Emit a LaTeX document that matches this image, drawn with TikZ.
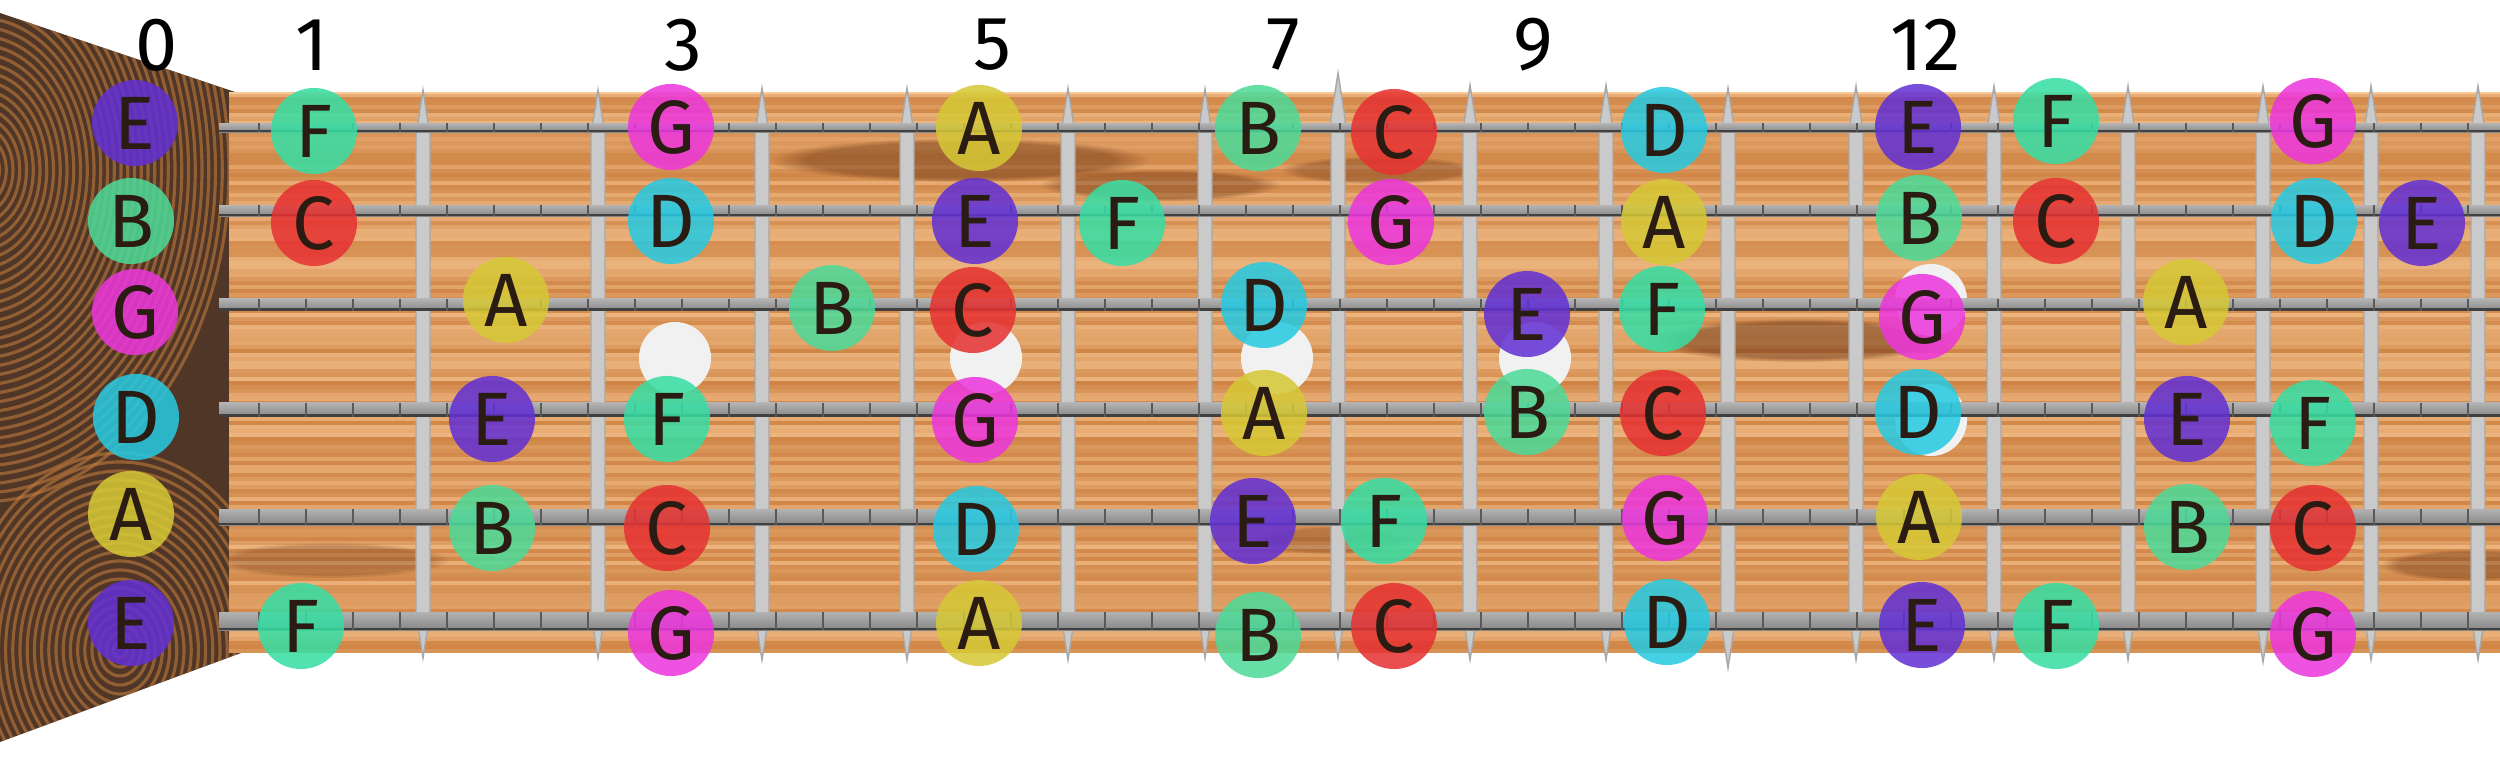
\documentclass[tikz,border=0pt]{standalone}
\usepackage{fontspec}
\setmainfont{Fira Sans}
\usetikzlibrary{fadings}
\definecolor{cE}{HTML}{6230D4}
\definecolor{cF}{HTML}{36DEA4}
\definecolor{cG}{HTML}{EC36DC}
\definecolor{cA}{HTML}{D6C836}
\definecolor{cB}{HTML}{4CDA98}
\definecolor{cC}{HTML}{E63232}
\definecolor{cD}{HTML}{26CAE2}
\definecolor{wood}{HTML}{E09C60}
\definecolor{woodlight}{HTML}{F8CA98}
\definecolor{wooddark}{HTML}{C27230}
\definecolor{knot}{HTML}{6A3414}
\definecolor{darkwood}{HTML}{4F3626}
\definecolor{darkgrain}{HTML}{C07A3C}
\definecolor{fretc}{HTML}{CACACA}
\definecolor{fretedge}{HTML}{A8A8A8}
\definecolor{inlay}{HTML}{F1F1F1}
\definecolor{ink}{HTML}{2A1C12}
\tikzset{
  notebase/.style={circle, minimum size=0.86cm, inner sep=0pt, fill opacity=0.86, text opacity=1,
    text=ink, font=\fontsize{21.5}{22}\selectfont},
  fretnum/.style={inner sep=0pt, text=black, font=\fontsize{21.5}{22}\selectfont},
  inlaydot/.style={circle, minimum size=0.72cm, inner sep=0pt, fill=inlay},
  fretbar/.style={fill=fretc, draw=fretedge, line width=0.4pt},
  knotstreak/.style={fill=knot, path fading=circle with fuzzy edge 20 percent},
}
\begin{document}
\begin{tikzpicture}[x=0.01cm, y=-0.01cm]
\useasboundingbox (0,0) rectangle (2500,764);
\fill[white] (0,0) rectangle (2500,764);
% headstock dark wood
\begin{scope}
  \clip (0,13) -- (238,93) -- (241,653) -- (0,742) -- cycle;
  \fill[darkwood] (0,0) rectangle (260,764);
  \foreach \r in {8,17,...,340}
    \draw[darkgrain, opacity=0.6, line width=0.9pt] (-20,170) ellipse ({\r*0.75} and \r);
  \foreach \r in {8,17,...,200}
    \draw[darkgrain, opacity=0.6, line width=0.9pt] (120,650) ellipse ({\r*0.8} and \r);
\end{scope}
% fretboard
\begin{scope}
  \clip (229,93) rectangle (2500,653);
  \fill[wood] (229,93) rectangle (2500,653);
  \pgfmathsetseed{7}
  \foreach \i in {0,...,139} {
    \pgfmathtruncatemacro\p{rnd*100}
    \fill[woodlight!\p!wooddark, opacity=0.55] (229,{93+\i*4}) rectangle (2500,{97+\i*4});
  }
  \fill[knotstreak, opacity=0.45] (960,160) ellipse (190 and 22);
  \fill[knotstreak, opacity=0.4] (1160,185) ellipse (120 and 16);
  \fill[knotstreak, opacity=0.35] (1380,170) ellipse (100 and 14);
  \fill[knotstreak, opacity=0.5] (1800,340) ellipse (150 and 22);
  \fill[knotstreak, opacity=0.4] (2470,565) ellipse (90 and 16);
  \fill[knotstreak, opacity=0.3] (1330,540) ellipse (80 and 14);
  \fill[knotstreak, opacity=0.3] (330,560) ellipse (120 and 18);
\end{scope}
\fill[woodlight] (229,92) rectangle (2500,94);
% inlays
\node[inlaydot] (i3) at (675,358) {};
\node[inlaydot] (i5) at (986,358) {};
\node[inlaydot] (i7) at (1277,358) {};
\node[inlaydot] (i9) at (1535,358) {};
\node[inlaydot] (i12a) at (1931,300) {};
\node[inlaydot] (i12b) at (1931,420) {};
% frets
\foreach \x/\t/\b in {423/90/658, 598/90/658, 762/88/660, 907/88/660, 1068/88/660,
  1205/89/658, 1338/73/658, 1470/85/660, 1606/85/660, 1728/88/668, 1856/86/660,
  1994/86/660, 2128/86/660, 2263/86/662, 2371/86/660, 2478/86/660}
  \filldraw[fretbar] (\x-7,\t+45) -- (\x,\t) -- (\x+7,\t+45) -- (\x+7,\b-45) -- (\x,\b) -- (\x-7,\b-45) -- cycle;
% strings
\foreach \y/\h in {128/9, 211/11, 305/12, 410/14, 517/16, 621/18} {
  \shade[top color=gray!60, bottom color=gray!95] (219,{\y-\h/2}) rectangle (2500,{\y+\h/2});
  \fill[black!75] (219,{\y+\h/2-2.5}) rectangle (2500,{\y+\h/2});
  \foreach \k in {0,...,48}
    \draw[black!65, line width=0.6pt] ({259+\k*47},{\y-\h/2}) -- ({259+\k*47},{\y+\h/2});
}
% fret numbers
\node[fretnum] (l0) at (157,45) {0};
\node[fretnum] (l1) at (312,45) {1};
\node[fretnum] (l3) at (683,45) {3};
\node[fretnum] (l5) at (992,45) {5};
\node[fretnum] (l7) at (1283,45) {7};
\node[fretnum] (l9) at (1533,45) {9};
\node[fretnum] (l12) at (1926,45) {12};
% notes
\foreach \x/\y/\n in {
  135/123/E, 314/131/F, 671/127/G, 979/128/A, 1258/128/B, 1394/132/C, 1664/130/D, 1918/127/E, 2056/121/F, 2313/121/G,
  131/221/B, 314/223/C, 671/221/D, 975/221/E, 1122/223/F, 1391/222/G, 1664/222/A, 1919/218/B, 2056/221/C, 2314/221/D, 2422/223/E,
  135/312/G, 506/300/A, 832/308/B, 973/310/C, 1264/305/D, 1527/314/E, 1662/309/F, 1922/317/G, 2186/302/A,
  136/417/D, 492/419/E, 667/419/F, 975/420/G, 1264/413/A, 1527/412/B, 1663/413/C, 1918/412/D, 2187/419/E, 2313/423/F,
  131/514/A, 492/528/B, 667/528/C, 976/529/D, 1253/521/E, 1384/521/F, 1665/518/G, 1919/517/A, 2187/527/B, 2313/528/C,
  131/623/E, 301/626/F, 671/633/G, 979/623/A, 1258/635/B, 1394/626/C, 1667/622/D, 1922/625/E, 2056/626/F, 2313/634/G}
  \node[notebase, fill=c\n] (n-\x-\y) at (\x,\y) {\n};
\end{tikzpicture}
\end{document}
